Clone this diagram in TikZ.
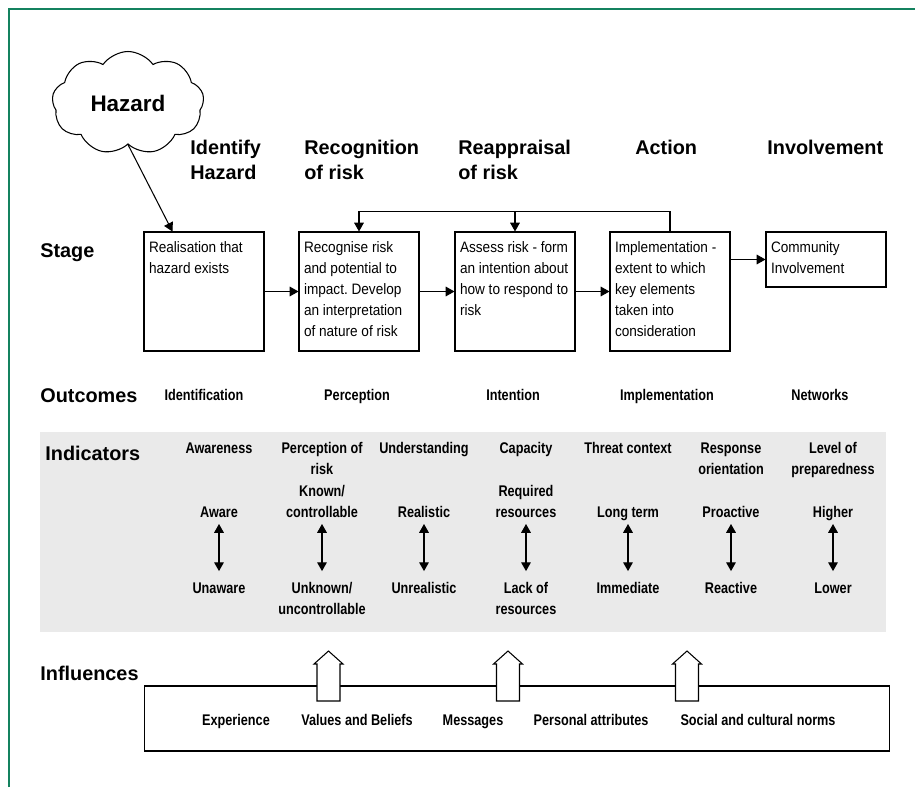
\documentclass[tikz,border=0pt]{standalone}
\usepackage{fontspec}
\setmainfont{Liberation Sans}
\newfontfamily\narrowsf[FakeStretch=0.82]{Liberation Sans}
\newfontfamily\boxsf[FakeStretch=0.9]{Liberation Sans}
\usetikzlibrary{arrows.meta, shapes.symbols}
\definecolor{framegreen}{RGB}{20,130,95}
\definecolor{bandgrey}{RGB}{234,234,234}
\newcommand{\stagetext}[2]{\parbox[c][#1][t]{2.2cm}{\raggedright\frenchspacing #2}}
\tikzset{
  bigtag/.style={font=\fontsize{11.3}{14.2}\selectfont\bfseries, inner sep=0pt, align=left},
  stagebox/.style={draw, line width=0.6pt, inner xsep=0.1cm, inner ysep=0.2cm, font=\boxsf\fontsize{8.6}{11.9}\selectfont},
  smalltag/.style={font=\narrowsf\fontsize{8.8}{11.9}\selectfont\bfseries, inner sep=0pt, align=center},
  arr/.style={-{Triangle[length=5pt,width=5.5pt]}, line width=0.6pt},
  updown/.style={{Triangle[length=5pt,width=5.5pt]}-{Triangle[length=5pt,width=5.5pt]}, line width=0.6pt, shorten >=4.5pt},
}
\begin{document}
\begin{tikzpicture}[x=0.02cm, y=-0.02cm]
  \useasboundingbox (0,0) rectangle (915,787);
  \draw[framegreen, line width=0.85pt] (9,787) -- (9,9) -- (915,9);
  \fill[bandgrey] (40,432) rectangle (886,632);
  %tikz  hazard and stage headers
  \node[cloud, draw, line width=0.6pt, cloud puffs=9, cloud puff arc=110, aspect=1.5, minimum width=3.04cm, minimum height=2.06cm, font=\fontsize{12.8}{15}\selectfont\bfseries] (hazard) at (128,103) {Hazard};
  \node[bigtag, anchor=north west] (hd1) at (190,136.5) {\strut Identify\\Hazard};
  \node[bigtag, anchor=north west] (hd2) at (304,136.5) {\strut Recognition\\of risk};
  \node[bigtag, anchor=north west] (hd3) at (458,136.5) {\strut Reappraisal\\of risk};
  \node[bigtag, anchor=north west] (hd4) at (635,136.5) {\strut Action};
  \node[bigtag, anchor=north west] (hd5) at (767,136.5) {\strut Involvement};
  \node[bigtag, anchor=base west] (stage) at (40,257) {Stage};
  \node[bigtag, anchor=base west] (outcomes) at (40,402) {Outcomes};
  \node[bigtag, anchor=base west] (indicators) at (45,460) {Indicators};
  \node[bigtag, anchor=base west] (influences) at (40,680) {Influences};
  %tikz  stage boxes
  \node[stagebox] (b1) at (204,291.5) {\stagetext{1.98cm}{Realisation that\\hazard exists}};
  \node[stagebox] (b2) at (359,291.5) {\stagetext{1.98cm}{Recognise risk\\and potential to\\impact. Develop\\an interpretation\\of nature of risk}};
  \node[stagebox] (b3) at (515,291.5) {\stagetext{1.98cm}{Assess risk - form\\an intention about\\how to respond to\\risk}};
  \node[stagebox] (b4) at (670,291.5) {\stagetext{1.98cm}{Implementation -\\extent to which\\key elements\\taken into\\consideration}};
  \node[stagebox] (b5) at (826,259.5) {\stagetext{0.7cm}{Community\\Involvement}};
  \draw[arr] (hazard.south) -- ([xshift=0.58cm]b1.north west);
  \draw[arr] (b1) -- (b2);
  \draw[arr] (b2) -- (b3);
  \draw[arr] (b3) -- (b4);
  \draw[arr] (b4.east |- b5.west) -- (b5.west);
  \draw[arr] (b4.north) -- ++(0,-20) -| (b2.north);
  \draw[arr] ([yshift=0.4cm]b3.north) -- (b3.north);
  %tikz  outcomes
  \node[smalltag, anchor=base] (oc1) at (204,400.5) {Identification};
  \node[smalltag, anchor=base] (oc2) at (357,400.5) {Perception};
  \node[smalltag, anchor=base] (oc3) at (513,400.5) {Intention};
  \node[smalltag, anchor=base] (oc4) at (667,400.5) {Implementation};
  \node[smalltag, anchor=base] (oc5) at (820,400.5) {Networks};
  %tikz  indicators
  \node[smalltag, anchor=north] (t1) at (219,439) {\strut Awareness};
  \node[smalltag, anchor=north] (t2) at (322,439) {\strut Perception of\\risk};
  \node[smalltag, anchor=north] (t3) at (424,439) {\strut Understanding};
  \node[smalltag, anchor=north] (t4) at (526,439) {\strut Capacity};
  \node[smalltag, anchor=north] (t5) at (628,439) {\strut Threat context};
  \node[smalltag, anchor=north] (t6) at (731,439) {\strut Response\\orientation};
  \node[smalltag, anchor=north] (t7) at (833,439) {\strut Level of\\preparedness};
  \node[smalltag, anchor=south] (hi1) at (219,524) {Aware\strut};
  \node[smalltag, anchor=south] (hi2) at (322,524) {Known/\\controllable\strut};
  \node[smalltag, anchor=south] (hi3) at (424,524) {Realistic\strut};
  \node[smalltag, anchor=south] (hi4) at (526,524) {Required\\resources\strut};
  \node[smalltag, anchor=south] (hi5) at (628,524) {Long term\strut};
  \node[smalltag, anchor=south] (hi6) at (731,524) {Proactive\strut};
  \node[smalltag, anchor=south] (hi7) at (833,524) {Higher\strut};
  \node[smalltag, anchor=north] (lo1) at (219,579) {\strut Unaware};
  \node[smalltag, anchor=north] (lo2) at (322,579) {\strut Unknown/\\uncontrollable};
  \node[smalltag, anchor=north] (lo3) at (424,579) {\strut Unrealistic};
  \node[smalltag, anchor=north] (lo4) at (526,579) {\strut Lack of\\resources};
  \node[smalltag, anchor=north] (lo5) at (628,579) {\strut Immediate};
  \node[smalltag, anchor=north] (lo6) at (731,579) {\strut Reactive};
  \node[smalltag, anchor=north] (lo7) at (833,579) {\strut Lower};
  \draw[updown] (hi1) -- (lo1);
  \draw[updown] (hi2) -- (lo2);
  \draw[updown] (hi3) -- (lo3);
  \draw[updown] (hi4) -- (lo4);
  \draw[updown] (hi5) -- (lo5);
  \draw[updown] (hi6) -- (lo6);
  \draw[updown] (hi7) -- (lo7);
  %tikz  influences
  \node[draw, line width=0.6pt, minimum width=14.92cm, minimum height=1.3cm] (inf) at (517,718.5) {};
  \draw[line width=0.6pt, fill=white] (317,701) -- ++(0,-37) -- ++(-3,0) -- ++(14.5,-13) -- ++(14.5,13) -- ++(-3,0) -- ++(0,37) -- cycle;
  \draw[line width=0.6pt, fill=white] (496.5,701) -- ++(0,-37) -- ++(-3,0) -- ++(14.5,-13) -- ++(14.5,13) -- ++(-3,0) -- ++(0,37) -- cycle;
  \draw[line width=0.6pt, fill=white] (675.5,701) -- ++(0,-37) -- ++(-3,0) -- ++(14.5,-13) -- ++(14.5,13) -- ++(-3,0) -- ++(0,37) -- cycle;
  \node[smalltag, anchor=base] (in1) at (236,725.5) {Experience};
  \node[smalltag, anchor=base] (in2) at (357,725.5) {Values and Beliefs};
  \node[smalltag, anchor=base] (in3) at (473,725.5) {Messages};
  \node[smalltag, anchor=base] (in4) at (591,725.5) {Personal attributes};
  \node[smalltag, anchor=base] (in5) at (758,725.5) {Social and cultural norms};
\end{tikzpicture}
\end{document}
